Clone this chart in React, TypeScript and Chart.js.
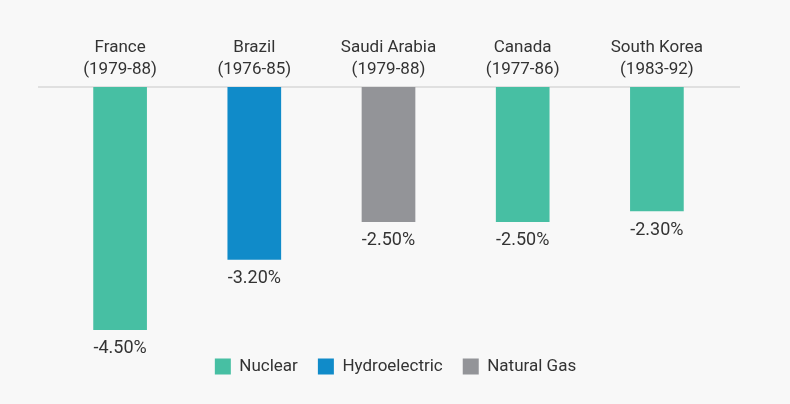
import React, { useEffect, useRef } from "react";
import { Chart, registerables } from "chart.js";

Chart.register(...registerables);

const categories: string[][] = [
  ["France", "(1979-88)"],
  ["Brazil", "(1976-85)"],
  ["Saudi Arabia", "(1979-88)"],
  ["Canada", "(1977-86)"],
  ["South Korea", "(1983-92)"],
];
const nuclear: (number | null)[] = [-4.5, null, null, -2.5, -2.3];
const hydro: (number | null)[] = [null, -3.2, null, null, null];
const gas: (number | null)[] = [null, null, -2.5, null, null];

const FONT = "'Roboto', sans-serif";
const TEXT = "#333333";

const zeroLine = {
  id: "zeroLine",
  beforeDatasetsDraw(chart: any) {
    const y = chart.scales.y.getPixelForValue(0);
    const ctx = chart.ctx;
    ctx.save();
    ctx.strokeStyle = "#d9d9d9";
    ctx.lineWidth = 1.5;
    ctx.beginPath();
    ctx.moveTo(38, y);
    ctx.lineTo(740, y);
    ctx.stroke();
    ctx.restore();
  },
};

const valueLabels = {
  id: "valueLabels",
  afterDatasetsDraw(chart: any) {
    const ctx = chart.ctx;
    ctx.save();
    ctx.font = `18px ${FONT}`;
    ctx.fillStyle = TEXT;
    ctx.textAlign = "center";
    ctx.textBaseline = "top";
    chart.data.datasets.forEach((ds: any, di: number) => {
      const meta = chart.getDatasetMeta(di);
      meta.data.forEach((el: any, i: number) => {
        const v = ds.data[i];
        if (v === null || v === undefined) return;
        ctx.fillText(v.toFixed(2) + "%", el.x, el.y + 10);
      });
    });
    ctx.restore();
  },
};

const shiftLegend = {
  id: "shiftLegend",
  afterLayout(chart: any) {
    if (chart.legend) {
      chart.legend.left += 7;
      chart.legend.right += 7;
    }
  },
};

export default function App() {
  const ref = useRef<HTMLCanvasElement>(null);
  useEffect(() => {
    if (!ref.current) return;
    const chart = new Chart(ref.current, {
      type: "bar",
      data: {
        labels: categories as any,
        datasets: [
          { label: "Nuclear", data: nuclear, backgroundColor: "#47bfa3" },
          { label: "Hydroelectric", data: hydro, backgroundColor: "#108bc9" },
          { label: "Natural Gas", data: gas, backgroundColor: "#939498" },
        ],
      },
      options: {
        animation: false,
        responsive: false,
        maintainAspectRatio: false,
        layout: { padding: { left: 53, right: 66, top: 27, bottom: 19 } },
        datasets: { bar: { grouped: false, categoryPercentage: 0.8, barPercentage: 0.5 } } as any,
        scales: {
          x: {
            position: "top",
            grid: { display: false },
            border: { display: false },
            ticks: {
              color: TEXT,
              font: { family: FONT, size: 17, lineHeight: 1.3 },
              padding: -2,
              maxRotation: 0,
              autoSkip: false,
            },
            afterFit: (s: any) => {
              s.height = 60;
            },
          },
          y: {
            display: false,
            min: -4.65,
            max: 0,
          },
        },
        plugins: {
          legend: {
            position: "bottom",
            labels: {
              color: TEXT,
              font: { family: FONT, size: 17 },
              boxWidth: 16,
              boxHeight: 16,
              padding: 20,
            },
          },
          tooltip: { enabled: false },
        },
      },
      plugins: [zeroLine, valueLabels, shiftLegend],
    });
    return () => chart.destroy();
  }, []);
  return (
    <div style={{ position: "fixed", left: 0, top: 0, width: 790, height: 404, background: "#f8f8f8" }}>
      <canvas ref={ref} width={790} height={404} style={{ width: 790, height: 404, display: "block" }} />
    </div>
  );
}
